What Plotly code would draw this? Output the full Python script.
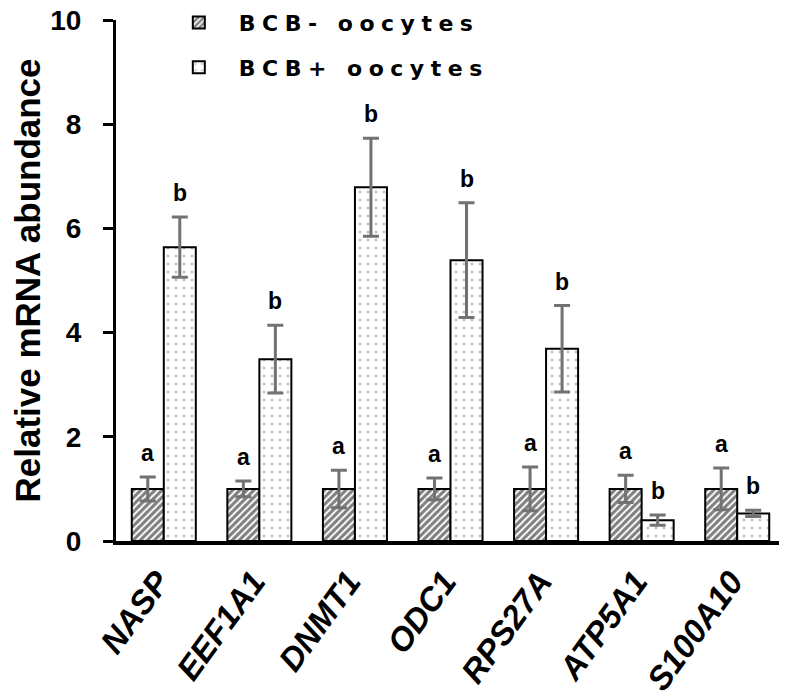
import plotly.graph_objects as go

genes = ["NASP", "EEF1A1", "DNMT1", "ODC1", "RPS27A", "ATP5A1", "S100A10"]
bcb_neg = [1.0, 1.0, 1.0, 1.0, 1.0, 1.0, 1.0]
bcb_neg_err = [0.23, 0.15, 0.36, 0.21, 0.42, 0.26, 0.40]
bcb_pos = [5.64, 3.49, 6.79, 5.39, 3.69, 0.40, 0.53]
bcb_pos_err = [0.58, 0.65, 0.94, 1.10, 0.83, 0.10, 0.06]
letters_neg = ["a", "a", "a", "a", "a", "a", "a"]
letters_pos = ["b", "b", "b", "b", "b", "b", "b"]
y_ticks = [0, 2, 4, 6, 8, 10]

FONT = "Liberation Sans, Arial, sans-serif"
LEG_FONT = "DejaVu Sans, Liberation Sans, sans-serif"
ERR_COLOR = "#727272"

fig = go.Figure()
fig.add_trace(go.Bar(
    name='<span style="letter-spacing:6.5px">BCB- oocytes</span>',
    x=genes, y=bcb_neg,
    error_y=dict(type="data", array=bcb_neg_err, color=ERR_COLOR, thickness=3, width=8),
    marker=dict(color="white", line=dict(color="black", width=2),
                pattern=dict(shape="/", fgcolor="black", bgcolor="white", size=5, solidity=0.62)),
    legendgroup="neg",
))
fig.add_trace(go.Bar(
    name='<span style="letter-spacing:6.5px">BCB+ oocytes</span>',
    x=genes, y=bcb_pos,
    error_y=dict(type="data", array=bcb_pos_err, color=ERR_COLOR, thickness=3, width=8),
    marker=dict(color="white", line=dict(color="black", width=2),
                pattern=dict(shape=".", fgcolor="#8a8a8a", bgcolor="white", size=8, solidity=0.12)),
    legendgroup="pos",
))

half = 0.67 / 4
for i, g in enumerate(genes):
    fig.add_annotation(x=i - half, y=bcb_neg[i] + bcb_neg_err[i], text=letters_neg[i],
                       showarrow=False, yanchor="bottom", yshift=9,
                       font=dict(family=FONT, size=23, color="black", weight="bold"))
    fig.add_annotation(x=i + half, y=bcb_pos[i] + bcb_pos_err[i], text=letters_pos[i],
                       showarrow=False, yanchor="bottom", yshift=9,
                       font=dict(family=FONT, size=23, color="black", weight="bold"))

# the page body adds an 8px offset, so the figure is 8px smaller than the window
fig.update_layout(
    width=779, height=689,
    margin=dict(l=108, r=2, t=12, b=156, autoexpand=False),
    paper_bgcolor="white", plot_bgcolor="white",
    barmode="group", bargap=0.33, bargroupgap=0,
    font=dict(family=FONT, color="black"),
    showlegend=True,
    legend=dict(x=0.064, y=1.035, xanchor="left", yanchor="top",
                font=dict(family=LEG_FONT, size=22, color="black", weight="bold"),
                tracegroupgap=13, itemwidth=70, bgcolor="rgba(0,0,0,0)"),
    xaxis=dict(
        range=[-0.5, 6.5], showline=True, linecolor="black", linewidth=4,
        ticks="", tickangle=-54, ticklabelstandoff=4, ticklabelshift=-6, automargin=False,
        tickfont=dict(family=FONT, size=33, color="black", weight="bold", style="italic"),
        showgrid=False, zeroline=False, ticklabeloverflow="allow",
    ),
    yaxis=dict(
        range=[0, 10], tickvals=y_ticks, showline=True, linecolor="black", linewidth=3,
        ticks="outside", ticklen=10, tickwidth=3, tickcolor="black",
        ticklabelstandoff=16, automargin=False, ticklabeloverflow="allow",
        tickfont=dict(family=FONT, size=28, color="black", weight="bold"),
        showgrid=False, zeroline=False,
        title=dict(text="Relative mRNA abundance", standoff=20,
                   font=dict(family=FONT, size=35, color="black", weight="bold")),
    ),
)

fig.write_html("out.html")
